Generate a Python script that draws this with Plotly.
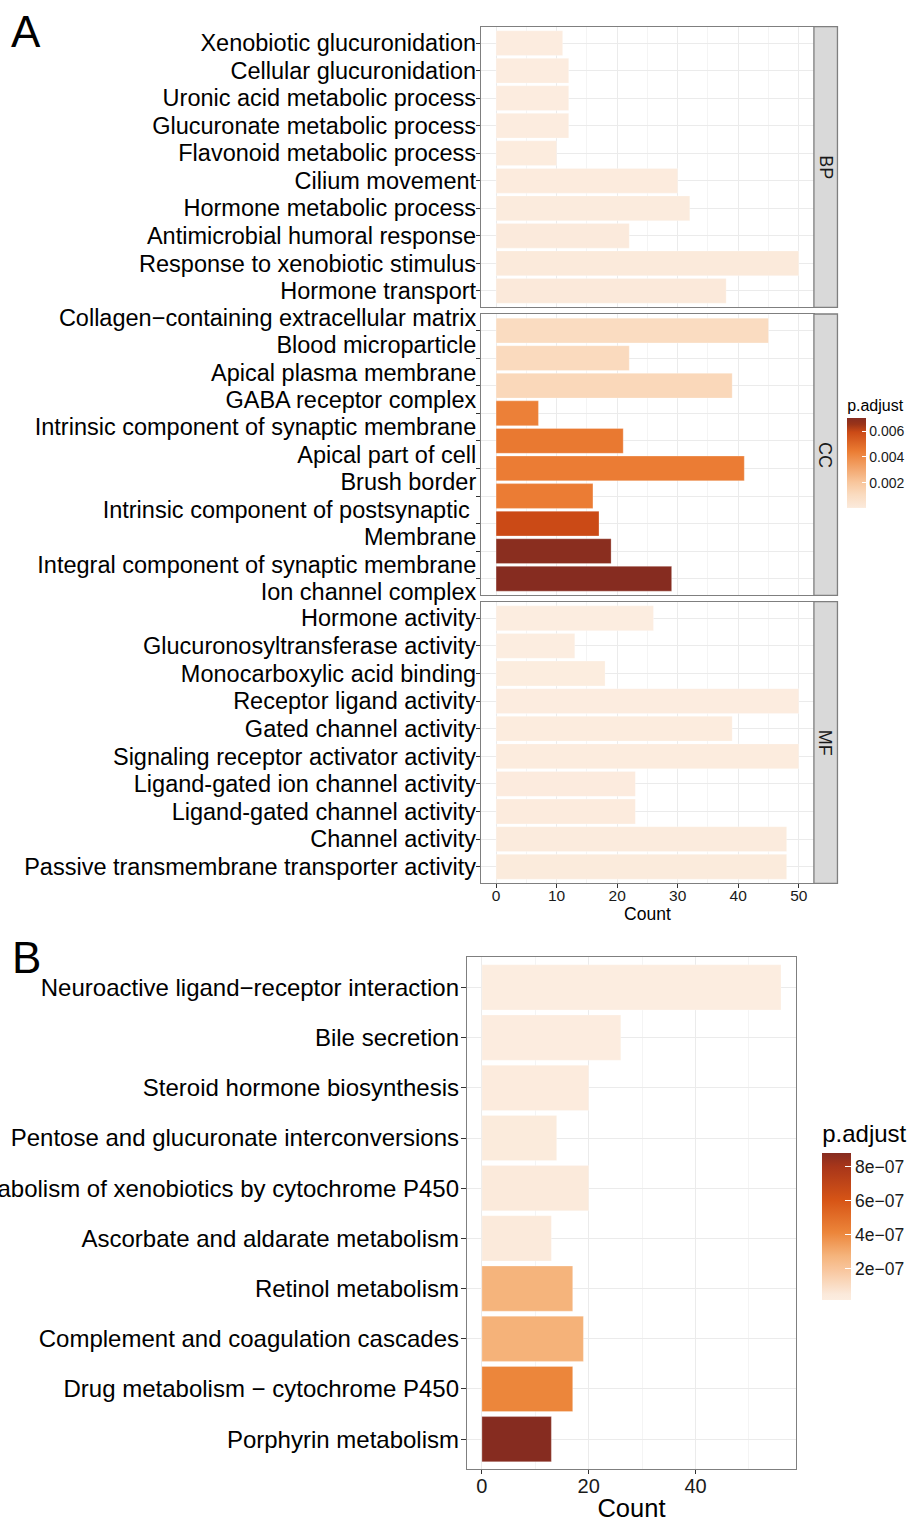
import plotly.graph_objects as go

W, H = 911, 1522
FONT = "Liberation Sans, Arial, sans-serif"

# ---- GO enrichment (panel A) ----
bp_terms = ["Xenobiotic glucuronidation", "Cellular glucuronidation",
            "Uronic acid metabolic process", "Glucuronate metabolic process",
            "Flavonoid metabolic process", "Cilium movement",
            "Hormone metabolic process", "Antimicrobial humoral response",
            "Response to xenobiotic stimulus", "Hormone transport"]
bp_count = [11, 12, 12, 12, 10, 30, 32, 22, 50, 38]
bp_padj = [2.1e-5, 2.1e-5, 2.6e-5, 2.6e-5, 3.4e-5, 4.5e-5, 5.2e-5, 6.0e-5, 6.8e-5, 8.7e-5]

cc_terms = ["Collagen\u2212containing extracellular matrix", "Blood microparticle",
            "Apical plasma membrane", "GABA receptor complex",
            "Intrinsic component of synaptic membrane", "Apical part of cell",
            "Brush border", "Intrinsic component of postsynaptic\u00a0\nMembrane",
            "Integral component of synaptic membrane", "Ion channel complex"]
cc_count = [45, 22, 39, 7, 21, 41, 16, 17, 19, 29]
cc_padj = [0.0010, 0.0011, 0.0012, 0.0043, 0.0045, 0.0044, 0.0044, 0.0059, 0.0069, 0.0070]

mf_terms = ["Hormone activity", "Glucuronosyltransferase activity",
            "Monocarboxylic acid binding", "Receptor ligand activity",
            "Gated channel activity", "Signaling receptor activator activity",
            "Ligand-gated ion channel activity", "Ligand-gated channel activity",
            "Channel activity", "Passive transmembrane transporter activity"]
mf_count = [26, 13, 18, 50, 39, 50, 23, 23, 48, 48]
mf_padj = [1.2e-5, 1.5e-5, 2.0e-5, 2.4e-5, 3.0e-5, 3.3e-5, 4.1e-5, 4.4e-5, 5.0e-5, 5.5e-5]

# ---- KEGG enrichment (panel B) ----
kegg_terms = ["Neuroactive ligand\u2212receptor interaction", "Bile secretion",
              "Steroid hormone biosynthesis", "Pentose and glucuronate interconversions",
              "Metabolism of xenobiotics by cytochrome P450",
              "Ascorbate and aldarate metabolism", "Retinol metabolism",
              "Complement and coagulation cascades",
              "Drug metabolism \u2212 cytochrome P450", "Porphyrin metabolism"]
kegg_count = [56, 26, 20, 14, 20, 13, 17, 19, 17, 13]
kegg_padj = [1.5e-8, 2.1e-8, 3.0e-8, 3.6e-8, 4.2e-8, 4.5e-8, 2.75e-7, 2.8e-7, 4.1e-7, 8.8e-7]

go_ticks = [0.002, 0.004, 0.006]
kegg_ticks = [2e-7, 4e-7, 6e-7, 8e-7]

cs_go = [[0, "#FCEDE0"], [0.01, "#FBE9DA"], [0.15, "#FADBBF"], [0.286, "#F8C69C"],
         [0.571, "#EE8A45"], [0.63, "#EB7C33"], [0.843, "#CB4A16"],
         [0.93, "#9A3419"], [1, "#862C20"]]
cs_kegg = [[0, "#FCEDE0"], [0.04, "#FBE9DA"], [0.214, "#F8C49A"], [0.30, "#F5B47C"],
           [0.46, "#EC853A"], [0.676, "#D75516"], [0.907, "#A8361A"], [1, "#862C20"]]


def px_x(x):
    return x / W


def px_y(y):
    return 1 - y / H


GRID = "#EBEBEB"
MINOR = "#F4F4F4"
BORDER = "#7F7F7F"
LABEL_FONT = dict(size=23.5, color="black")

# panel boxes in page pixels
A_left, A_right, STRIP_R = 482, 815.7, 839.3
facets = [("BP", 26.7, 307.3), ("CC", 314.0, 595.3), ("MF", 601.7, 883.3)]
B_box = (468, 957.3, 797.7, 1469.3)

fig = go.Figure()
layout = dict(width=W, height=H, margin=dict(l=0, r=0, t=0, b=0),
              paper_bgcolor="white", plot_bgcolor="white", showlegend=False,
              font=dict(family=FONT, color="black"))

facet_data = [(bp_terms, bp_count, bp_padj), (cc_terms, cc_count, cc_padj),
              (mf_terms, mf_count, mf_padj)]

shapes, annotations = [], []
bar_line = dict(width=0.6, color="rgba(255,255,255,0.45)")

for i, ((name, top, bottom), (terms, counts, padj)) in enumerate(zip(facets, facet_data)):
    k = i + 1
    xa = "x" if k == 1 else f"x{k}"
    ya = "y" if k == 1 else f"y{k}"
    wrapped = any("\n" in t for t in terms)
    fig.add_trace(go.Bar(orientation="h", x=counts, y=terms, width=0.9,
                         marker=dict(color=padj, coloraxis="coloraxis", line=bar_line),
                         xaxis=xa, yaxis=ya, hoverinfo="x"))
    last = k == len(facets)
    layout["xaxis" if k == 1 else f"xaxis{k}"] = dict(
        domain=[px_x(A_left), px_x(A_right)], anchor=ya, range=[-2.5, 52.5],
        tick0=0, dtick=10, showgrid=True, gridcolor=GRID, gridwidth=1,
        minor=dict(dtick=5, tick0=0, showgrid=True, gridcolor=MINOR, gridwidth=0.8),
        showline=True, mirror=True, linecolor=BORDER, linewidth=1.3, zeroline=False,
        ticks="outside" if last else "", ticklen=4, tickcolor="#333333",
        showticklabels=last, ticklabelstandoff=-6,
        tickfont=dict(size=15.5, color="#1A1A1A"),
        title=dict(text="Count", font=dict(size=17.5), standoff=0) if last else None,
        automargin=False)
    layout["yaxis" if k == 1 else f"yaxis{k}"] = dict(
        domain=[px_y(bottom), px_y(top)], anchor=xa, type="category",
        categoryorder="array", categoryarray=terms, range=[len(terms) - 0.4, -0.6],
        tickmode="array", tickvals=terms, ticktext=terms, showticklabels=not wrapped,
        showgrid=True, gridcolor=GRID, gridwidth=1, showline=True, mirror=True,
        linecolor=BORDER, linewidth=1.3, ticks="outside", ticklen=4,
        ticklabelstandoff=-5, tickcolor="#333333", tickfont=LABEL_FONT,
        automargin=False)
    if wrapped:
        # a wrapped term takes two text lines, so the facet's label lines are
        # spread evenly over the panel height on an overlaid label axis
        lines = [part for t in terms for part in t.split("\n")]
        n_extra = len(lines) - len(terms)
        fig.add_trace(go.Scatter(x=[None], y=[None], xaxis=xa, yaxis="y5",
                                 showlegend=False, hoverinfo="skip"))
        layout["yaxis5"] = dict(
            overlaying=ya, anchor=xa, side="left", type="linear",
            range=[len(lines) - 1 + 0.13, -0.13],
            tickmode="array", tickvals=list(range(len(lines))), ticktext=lines,
            showgrid=False, zeroline=False, showline=False,
            ticks="outside", ticklen=4, tickcolor="rgba(0,0,0,0)",
            ticklabelstandoff=-5, tickfont=LABEL_FONT, automargin=False,
            fixedrange=True)
    # facet strip
    shapes.append(dict(type="rect", xref="paper", yref="paper",
                       x0=px_x(A_right), x1=px_x(STRIP_R), y0=px_y(bottom), y1=px_y(top),
                       fillcolor="#D9D9D9", line=dict(color=BORDER, width=1.3)))
    annotations.append(dict(text=name, xref="paper", yref="paper",
                            x=px_x((A_right + STRIP_R) / 2), y=px_y((top + bottom) / 2),
                            xanchor="center", yanchor="middle",
                            showarrow=False, textangle=90,
                            font=dict(size=18, color="#1A1A1A")))

# panel B
fig.add_trace(go.Bar(orientation="h", x=kegg_count, y=kegg_terms, width=0.9,
                     marker=dict(color=kegg_padj, coloraxis="coloraxis2", line=bar_line),
                     xaxis="x4", yaxis="y4", hoverinfo="x+y"))
bl, bt, br, bb = B_box
layout["xaxis4"] = dict(
    domain=[px_x(bl), px_x(br)], anchor="y4", range=[-2.8, 58.8], tick0=0, dtick=20,
    showgrid=True, gridcolor=GRID, gridwidth=1,
    minor=dict(dtick=10, tick0=0, showgrid=True, gridcolor=MINOR, gridwidth=0.8),
    showline=True, mirror=True, linecolor=BORDER, linewidth=1.3, zeroline=False,
    ticks="outside", ticklen=4, tickcolor="#333333", ticklabelstandoff=-5,
    tickfont=dict(size=20, color="#1A1A1A"),
    title=dict(text="Count", font=dict(size=25.5), standoff=5), automargin=False)
layout["yaxis4"] = dict(
    domain=[px_y(bb), px_y(bt)], anchor="x4", type="category", categoryorder="array",
    categoryarray=kegg_terms, range=[len(kegg_terms) - 0.4, -0.6],
    tickmode="array", tickvals=kegg_terms, ticktext=kegg_terms,
    showgrid=True, gridcolor=GRID, gridwidth=1, showline=True, mirror=True,
    linecolor=BORDER, linewidth=1.3, ticks="outside", ticklen=5, tickcolor="#333333",
    ticklabelstandoff=-3,
    tickfont=dict(size=24, color="black"), automargin=False)

layout["coloraxis"] = dict(
    colorscale=cs_go,
    colorbar=dict(title=dict(text="p.adjust", side="top", font=dict(size=16)),
                  x=px_x(849), xanchor="left", xpad=0,
                  y=px_y(508.3), yanchor="bottom", ypad=0,
                  len=112, lenmode="pixels", thickness=19, thicknessmode="pixels",
                  outlinewidth=0, tickvals=go_ticks,
                  ticktext=[f"{v:.3f}" for v in go_ticks],
                  ticks="inside", ticklen=4, tickcolor="white",
                  tickfont=dict(size=14, color="#1A1A1A")))
layout["coloraxis2"] = dict(
    colorscale=cs_kegg,
    colorbar=dict(title=dict(text="p.adjust", side="top", font=dict(size=24)),
                  x=px_x(824), xanchor="left", xpad=0,
                  y=px_y(1300), yanchor="bottom", ypad=0,
                  len=179, lenmode="pixels", thickness=28.7, thicknessmode="pixels",
                  outlinewidth=0, tickvals=kegg_ticks,
                  ticktext=[f"{v:.0e}".replace("-", "\u2212") for v in kegg_ticks],
                  ticks="inside", ticklen=6, tickcolor="white",
                  tickfont=dict(size=17.5, color="#1A1A1A")))

# panel letters
annotations.append(dict(text="A", xref="paper", yref="paper", x=px_x(9), y=px_y(5),
                        xanchor="left", yanchor="top", showarrow=False,
                        font=dict(size=44, color="black")))
annotations.append(dict(text="B", xref="paper", yref="paper", x=px_x(10), y=px_y(931),
                        xanchor="left", yanchor="top", showarrow=False,
                        font=dict(size=44, color="black")))

layout["shapes"] = shapes
layout["annotations"] = annotations
fig.update_layout(**layout)
fig.write_html("out.html")
